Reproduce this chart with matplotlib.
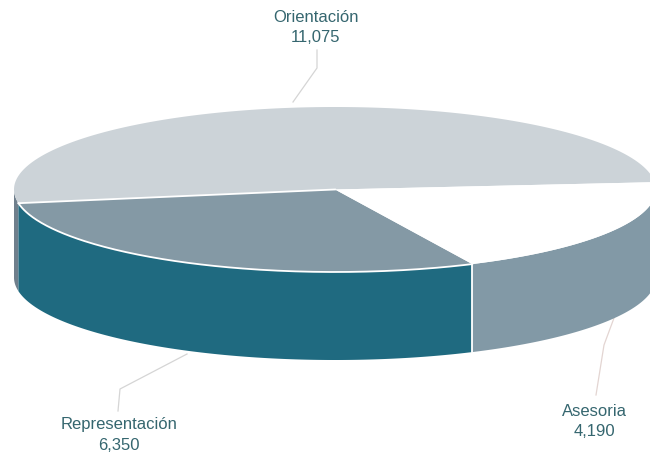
import numpy as np
import matplotlib
matplotlib.use("Agg")
import matplotlib.pyplot as plt
from matplotlib.patches import Polygon

# ============================
# 1. Data
# ============================
categories = ["Orientación", "Representación", "Asesoria"]
values = [11075, 6350, 4190]
top_colors = ["#CCD3D8", "#8499A5", "#FFFFFF"]
side_colors = ["#6F7F8C", "#1F6A80", "#8299A6"]
text_color = "#35666F"

# ============================
# 2. Pie geometry (pixels of the picture)
# ============================
cx, cy = 335, 189.5
rx, ry = 321, 82.5
depth = 88
start_angle = 5.1

plt.rcParams["font.family"] = ["Liberation Sans", "DejaVu Sans"]

fig = plt.figure(figsize=(6.5, 4.55), dpi=100)
ax = fig.add_axes([0, 0, 1, 1])
ax.set_xlim(0, 650)
ax.set_ylim(455, 0)
ax.axis("off")


def rim(a0, a1, dy=0):
    t = np.radians(np.linspace(a0, a1, 200))
    return np.column_stack([cx + rx * np.cos(t), cy - ry * np.sin(t) + dy])


# slice angles come from the values
sweeps = 360 * np.array(values) / sum(values)
edges = start_angle + np.concatenate([[0], np.cumsum(sweeps)])

# ============================
# 3. Sides, only the front half shows
# ============================
for i in range(len(values)):
    a0 = max(edges[i], 180)
    a1 = min(edges[i + 1], 360)
    if a1 > a0:
        top = rim(a0, a1)
        bottom = rim(a1, a0, depth)
        ax.add_patch(Polygon(np.vstack([top, bottom]), closed=True,
                             facecolor=side_colors[i], edgecolor="none", zorder=2))

# white seam between the two front sides
seam = rim(edges[2], edges[2])[0]
ax.plot([seam[0], seam[0]], [seam[1], seam[1] + depth], color="white", lw=1.3, zorder=3)

# ============================
# 4. Top faces
# ============================
for i in range(len(values)):
    pts = np.vstack([[cx, cy], rim(edges[i], edges[i + 1])])
    ax.add_patch(Polygon(pts, closed=True, facecolor=top_colors[i],
                         edgecolor="none", zorder=4))

# white lines on the top of the pie
left = rim(edges[1], edges[1])[0]
ax.plot([left[0], cx], [left[1], cy], color="white", lw=1.3, zorder=5)
rep_rim = rim(edges[1], edges[2])
ax.plot(rep_rim[:, 0], rep_rim[:, 1], color="white", lw=1.3, zorder=5)

# ============================
# 5. Labels and leader lines
# ============================
leader_color = "#D5D5D5"
ax.plot([293, 317, 317], [102, 68, 50], color=leader_color, lw=0.9, zorder=1)
ax.plot([187, 120, 118], [354, 389, 411], color=leader_color, lw=0.9, zorder=1)
ax.plot([614, 604, 596], [318, 345, 395], color="#E3D5D2", lw=0.9, zorder=1)

label_pos = [(316, 17), (119, 424), (594, 412)]
value_pos = [(316, 37), (119, 445), (594, 431)]
for i, name in enumerate(categories):
    ax.text(label_pos[i][0], label_pos[i][1], name, ha="center", va="center",
            fontsize=12, color=text_color)
    ax.text(value_pos[i][0], value_pos[i][1], f"{values[i]:,}", ha="center", va="center",
            fontsize=12, color=text_color)

fig.savefig("out.png", dpi=100)
